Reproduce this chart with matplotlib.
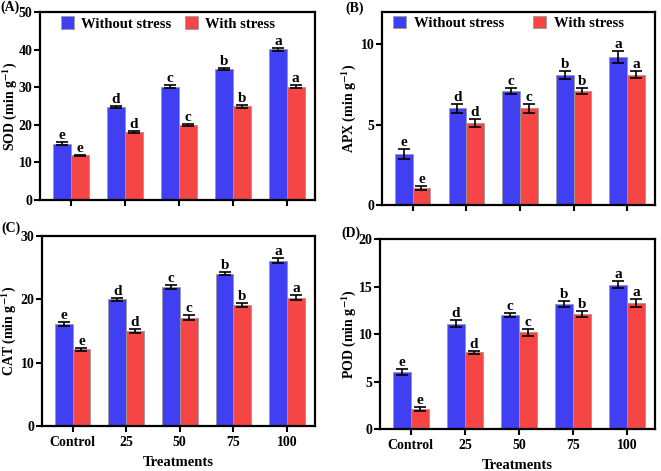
import matplotlib.pyplot as plt
import numpy as np

plt.rcParams['font.family'] = ['Liberation Serif', 'DejaVu Serif']
plt.rcParams['font.weight'] = 'bold'
plt.rcParams['mathtext.fontset'] = 'stix'
plt.rcParams['mathtext.default'] = 'bf'

treatments = ["Control", "25", "50", "75", "100"]
letters = ["e", "d", "c", "b", "a"]

sod_without = [15.0, 24.7, 30.1, 34.9, 40.1]
sod_without_err = [0.3, 0.2, 0.4, 0.3, 0.4]
sod_with = [11.9, 18.0, 19.9, 24.9, 30.1]
sod_with_err = [0.2, 0.3, 0.3, 0.3, 0.4]

apx_without = [3.15, 6.0, 7.1, 8.1, 9.2]
apx_without_err = [0.3, 0.3, 0.2, 0.25, 0.35]
apx_with = [1.05, 5.1, 6.0, 7.1, 8.1]
apx_with_err = [0.15, 0.25, 0.3, 0.2, 0.2]

cat_without = [16.1, 20.0, 22.0, 24.1, 26.1]
cat_without_err = [0.3, 0.3, 0.3, 0.3, 0.4]
cat_with = [12.1, 15.0, 17.1, 19.1, 20.3]
cat_with_err = [0.3, 0.3, 0.4, 0.3, 0.4]

pod_without = [6.0, 11.1, 12.0, 13.2, 15.2]
pod_without_err = [0.3, 0.35, 0.2, 0.3, 0.35]
pod_with = [2.1, 8.1, 10.2, 12.1, 13.3]
pod_with_err = [0.25, 0.15, 0.35, 0.3, 0.4]

blue = "#4040f2"
red = "#f54545"
edge = "#999999"

W, H = 661, 471
fig = plt.figure(figsize=(W / 100, H / 100), dpi=100)

# tag, name, data..., ymax, step, axes rect, legend anchor x, column spacing, ylabel x, tag pos (px)
panels = [
    ("(A)", "SOD", sod_without, sod_without_err, sod_with, sod_with_err, 50, 10,
     [0.0605, 0.5754, 0.416, 0.399], 0.06, 0.9, -0.075, (0, 7)),
    ("(B)", "APX", apx_without, apx_without_err, apx_with, apx_with_err, 12, 5,
     [0.578, 0.5648, 0.413, 0.41], 0.025, 2.0, -0.088, (345, 8)),
    ("(C)", "CAT", cat_without, cat_without_err, cat_with, cat_with_err, 30, 10,
     [0.0635, 0.0955, 0.413, 0.403], None, 0, -0.088, (1, 228)),
    ("(D)", "POD", pod_without, pod_without_err, pod_with, pod_with_err, 20, 5,
     [0.575, 0.0892, 0.416, 0.403], None, 0, -0.08, (341, 233)),
]

x = np.arange(len(treatments))
w = 0.33

for tag, name, a, aerr, b, berr, ymax, step, pos, legx, colsp, ylx, tagpos in panels:
    ax = fig.add_axes(pos)
    ax.bar(x - w / 2, a, w, color=blue, edgecolor=edge, linewidth=0.6, label="Without stress")
    ax.bar(x + w / 2, b, w, color=red, edgecolor=edge, linewidth=0.6, label="With stress")
    ax.errorbar(x - w / 2, a, yerr=aerr, fmt="none", ecolor="black", elinewidth=1.2, capsize=4, capthick=1.2)
    ax.errorbar(x + w / 2, b, yerr=berr, fmt="none", ecolor="black", elinewidth=1.2, capsize=4, capthick=1.2)
    for i in range(len(x)):
        ax.text(x[i] - w / 2, a[i] + aerr[i], letters[i], ha="center", va="bottom", fontsize=11, fontweight="bold")
        ax.text(x[i] + w / 2, b[i] + berr[i], letters[i], ha="center", va="bottom", fontsize=11, fontweight="bold")
    ax.set_xlim(-0.57, 4.52)
    ax.set_ylim(0, ymax)
    ax.set_yticks(np.arange(0, ymax + 0.1, step))
    ax.set_xticks(x)
    if legx is None:
        ax.set_xticklabels(treatments)
        ax.set_xlabel("Treatments", fontsize=10.5, fontweight="bold", labelpad=5)
    else:
        ax.set_xticklabels([])
    ax.set_ylabel(name + r" (min g$^{-1}$)", fontsize=10, fontweight="bold")
    ax.yaxis.set_label_coords(ylx, 0.5)
    ax.tick_params(axis="both", direction="out", width=1.5, length=4.5, pad=1, labelsize=10)
    ax.tick_params(axis="x", pad=3)
    for s in ax.spines.values():
        s.set_linewidth(1.6)
    for lbl in ax.get_xticklabels() + ax.get_yticklabels():
        lbl.set_fontweight("bold")
    if legx is not None:
        ax.legend(loc="upper left", ncol=2, frameon=False, handlelength=0.9, handleheight=0.9,
                  handletextpad=0.5, columnspacing=colsp, borderaxespad=0, borderpad=0.3,
                  bbox_to_anchor=(legx, 1.0), prop={"weight": "bold", "size": 10.5})
    fig.text(tagpos[0] / W, 1 - tagpos[1] / H, tag, fontsize=10, fontweight="bold", ha="left", va="center")

fig.savefig("out.png", dpi=100)
